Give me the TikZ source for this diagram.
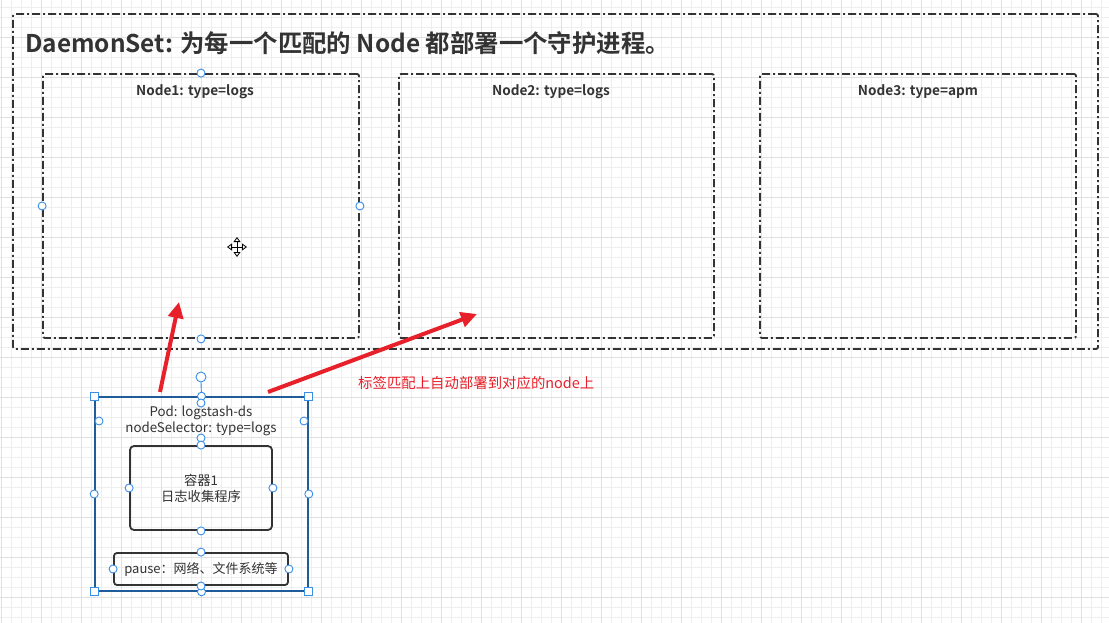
\documentclass[tikz,border=0pt]{standalone}
\usepackage{fontspec}
\setmainfont{Noto Sans CJK SC}
\newfontfamily\cjkbold{Noto Sans CJK SC Bold}
\usetikzlibrary{arrows.meta}
\definecolor{gridminor}{HTML}{EEEEEE}
\definecolor{gridmajor}{HTML}{E0E0E0}
\definecolor{ink}{HTML}{333333}
\definecolor{podblue}{HTML}{1F5C99}
\definecolor{handleblue}{HTML}{3A8EE6}
\definecolor{arrowred}{HTML}{E8202A}
\tikzset{
  dashdot/.style={draw=ink, line width=1.8pt, dash pattern=on 8pt off 3pt on 2pt off 3pt, rounded corners=2pt},
  outerbox/.style={dashdot, inner sep=0pt},
  nodebox/.style={dashdot, inner sep=0pt},
  nodelabel/.style={text=ink, font=\cjkbold\fontsize{13.6}{16}\selectfont, inner sep=0pt},
  podbox/.style={draw=podblue, line width=1.6pt, inner sep=0pt},
  innerbox/.style={draw=ink, line width=1.8pt, rounded corners=4pt, inner sep=0pt},
  podtext/.style={text=ink, font=\fontsize{13.3}{16}\selectfont, align=center, inner sep=0pt},
  redarrow/.style={draw=arrowred, line width=4pt, -{Triangle[length=16pt,width=15pt]}},
  hcirc/.style={circle, draw=handleblue, fill=white, line width=0.9pt, minimum size=8pt, inner sep=0pt},
  hsq/.style={rectangle, draw=handleblue, fill=white, line width=0.9pt, minimum size=8pt, inner sep=0pt},
}
\begin{document}
\begin{tikzpicture}[x=1pt,y=-1pt]
\fill[white] (0,0) rectangle (1109,623);
\useasboundingbox (0,0) rectangle (1109,623);
% grid
\foreach \x in {1,11,...,1109} \draw[gridminor, line width=0.8pt] (\x,0) -- (\x,623);
\foreach \y in {7,17,...,623} \draw[gridminor, line width=0.8pt] (0,\y) -- (1109,\y);
\foreach \x in {1,41,...,1109} \draw[gridmajor, line width=0.8pt] (\x,0) -- (\x,623);
\foreach \y in {37,77,...,623} \draw[gridmajor, line width=0.8pt] (0,\y) -- (1109,\y);

% outer DaemonSet box
\node[outerbox, minimum width=1085pt, minimum height=335pt] (ds) at (555.5,181.5) {};
\node[anchor=base west, text=ink, font=\cjkbold\fontsize{24.4}{28}\selectfont, inner sep=0pt] (title) at (25,53) {DaemonSet: 为每一个匹配的 Node 都部署一个守护进程。};

% Node boxes
\node[nodebox, minimum width=316pt, minimum height=264pt] (n1) at (201,206) {};
\node[nodebox, minimum width=315pt, minimum height=264pt] (n2) at (556.5,206) {};
\node[nodebox, minimum width=316pt, minimum height=264pt] (n3) at (918,206) {};
\node[nodelabel] (l1) at (195,92) {Node1: type=logs};
\node[nodelabel] (l2) at (551,92) {Node2: type=logs};
\node[nodelabel] (l3) at (918,92) {Node3: type=apm};

% Pod
\node[podbox, minimum width=213pt, minimum height=194pt] (pod) at (201.5,494) {};
\node[podtext] (podt) at (201,421) {Pod: logstash-ds\\nodeSelector: type=logs};
\node[innerbox, minimum width=142pt, minimum height=84pt] (ctr) at (201,488) {};
\node[podtext] (ctrt) at (201,488) {容器1\\日志收集程序};
\node[innerbox, minimum width=174pt, minimum height=32pt, rounded corners=3pt] (pause) at (201,569) {};
\node[podtext, font=\fontsize{13}{16}\selectfont] (pauset) at (201,569) {pause：网络、文件系统等};

% red arrows
\coordinate (a1s) at (160,392);
\coordinate (a1e) at (179,302);
\coordinate (a2s) at (268,392);
\coordinate (a2e) at (477,314);
\draw[redarrow] (a1s) -- (a1e);
\draw[redarrow] (a2s) -- (a2e);
\node[anchor=base west, text=arrowred, font=\fontsize{14.4}{17}\selectfont, inner sep=0pt] (note) at (358,388) {标签匹配上自动部署到对应的node上};

% selection handles on Node1
\node[hcirc] (h1) at (n1.north) {};
\node[hcirc] (h2) at (n1.west) {};
\node[hcirc] (h3) at (n1.east) {};
\node[hcirc] (h4) at (n1.south) {};

% selection handles on Pod
\node[hcirc, minimum size=10pt] (rot) at (201,377) {};
\draw[handleblue, line width=0.9pt] (rot.south) -- (pod.north);
\node[hsq] (s1) at (pod.north west) {};
\node[hsq] (s2) at (pod.north east) {};
\node[hsq] (s3) at (pod.south west) {};
\node[hsq] (s4) at (pod.south east) {};
\node[hcirc] (p1) at (pod.north) {};
\node[hcirc] (p1b) at (201,403) {};
\node[hcirc] (p2) at (pod.west) {};
\node[hcirc] (p3) at (pod.east) {};
\node[hcirc] (p4) at (pod.south) {};
\node[hcirc] (p4b) at (201,586) {};
\node[hcirc] (p5) at (99,421) {};
\node[hcirc] (p6) at (304,421) {};
\node[hcirc] (c1) at (201,438) {};
\node[hcirc] (c2) at (ctr.north) {};
\node[hcirc] (c3) at (ctr.west) {};
\node[hcirc] (c4) at (ctr.east) {};
\node[hcirc] (c5) at (ctr.south) {};
\node[hcirc] (q1) at (pause.north) {};
\node[hcirc] (q2) at (pause.west) {};
\node[hcirc] (q3) at (pause.east) {};

% move cursor
\begin{scope}[shift={(237,247)}]
\draw[black, line width=0.8pt, {Triangle[open,length=5pt,width=7pt]}-{Triangle[open,length=5pt,width=7pt]}] (-10,0) -- (10,0);
\draw[black, line width=0.8pt, {Triangle[open,length=5pt,width=7pt]}-{Triangle[open,length=5pt,width=7pt]}] (0,-10) -- (0,10);
\end{scope}
\end{tikzpicture}
\end{document}
